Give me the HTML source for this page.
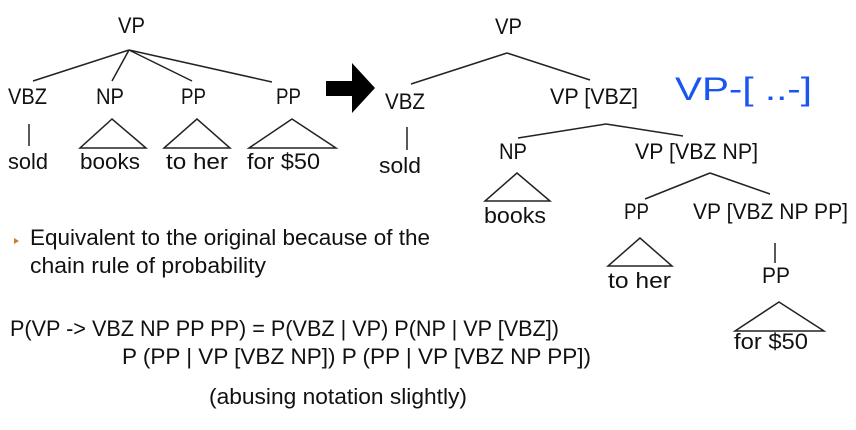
<!DOCTYPE html>
<html><head><meta charset="utf-8"><style>
html,body{margin:0;padding:0;background:#fff;}
svg{display:block;}
text{font-family:"Liberation Sans",sans-serif;font-size:22px;fill:#111;}
</style></head><body>
<svg width="856" height="430" viewBox="0 0 856 430" xmlns="http://www.w3.org/2000/svg">
<g stroke="#222" stroke-width="1.5" fill="none">
<line x1="129" y1="50" x2="33" y2="81"/>
<line x1="129" y1="50" x2="112" y2="81"/>
<line x1="129" y1="50" x2="192" y2="81"/>
<line x1="129" y1="50" x2="272" y2="82"/>
<line x1="29" y1="124" x2="29" y2="146"/>
<polygon points="112,119 80,148 146,148"/>
<polygon points="197,119 164,148 230,148"/>
<polygon points="292,119 249,148 336,148"/>
<line x1="507" y1="53" x2="411" y2="84"/>
<line x1="507" y1="53" x2="590" y2="80"/>
<line x1="407" y1="127" x2="407" y2="150"/>
<line x1="606" y1="124" x2="518" y2="138"/>
<line x1="606" y1="124" x2="683" y2="136"/>
<polygon points="517,173 485,201 550,201"/>
<line x1="710" y1="173" x2="645" y2="199"/>
<line x1="710" y1="173" x2="770" y2="194"/>
<polygon points="640,238 608,266 672,266"/>
<line x1="775" y1="243" x2="775" y2="263"/>
<polygon points="779,302 735,331 824,331"/>
</g>
<rect x="326" y="81" width="28" height="15" fill="#000"/>
<polygon points="352,63 375,88 352,113" fill="#000"/>
<text x="118" y="33" textLength="27" lengthAdjust="spacingAndGlyphs">VP</text>
<text x="8" y="104" textLength="39" lengthAdjust="spacingAndGlyphs">VBZ</text>
<text x="96" y="104" textLength="28" lengthAdjust="spacingAndGlyphs">NP</text>
<text x="181" y="104" textLength="25" lengthAdjust="spacingAndGlyphs">PP</text>
<text x="276" y="104" textLength="25" lengthAdjust="spacingAndGlyphs">PP</text>
<text x="8" y="169" textLength="40" lengthAdjust="spacingAndGlyphs">sold</text>
<text x="80" y="169" textLength="60" lengthAdjust="spacingAndGlyphs">books</text>
<text x="166" y="169" textLength="62" lengthAdjust="spacingAndGlyphs">to her</text>
<text x="247" y="169" textLength="73" lengthAdjust="spacingAndGlyphs">for $50</text>
<text x="495" y="34" textLength="27" lengthAdjust="spacingAndGlyphs">VP</text>
<text x="385" y="109" textLength="40" lengthAdjust="spacingAndGlyphs">VBZ</text>
<text x="550" y="104" textLength="88" lengthAdjust="spacingAndGlyphs">VP [VBZ]</text>
<text x="379" y="173" textLength="42" lengthAdjust="spacingAndGlyphs">sold</text>
<text x="499" y="159" textLength="28" lengthAdjust="spacingAndGlyphs">NP</text>
<text x="635" y="159" textLength="123" lengthAdjust="spacingAndGlyphs">VP [VBZ NP]</text>
<text x="484" y="223" textLength="62" lengthAdjust="spacingAndGlyphs">books</text>
<text x="624" y="219" textLength="25" lengthAdjust="spacingAndGlyphs">PP</text>
<text x="693" y="219" textLength="155" lengthAdjust="spacingAndGlyphs">VP [VBZ NP PP]</text>
<text x="608" y="288" textLength="63" lengthAdjust="spacingAndGlyphs">to her</text>
<text x="762" y="283" textLength="28" lengthAdjust="spacingAndGlyphs">PP</text>
<text x="734" y="349" textLength="74" lengthAdjust="spacingAndGlyphs">for $50</text>
<text x="675" y="100" textLength="137" lengthAdjust="spacingAndGlyphs" style="fill:#1a55f0;font-size:32px;font-weight:normal;">VP-[ ..-]</text>
<polygon points="14,238 19,241 14,244" fill="#d07a30"/>
<text x="30" y="245" textLength="400" lengthAdjust="spacingAndGlyphs">Equivalent to the original because of the</text>
<text x="30" y="273" textLength="236" lengthAdjust="spacingAndGlyphs">chain rule of probability</text>
<text x="10" y="336" textLength="549" lengthAdjust="spacingAndGlyphs">P(VP -&gt; VBZ NP PP PP) = P(VBZ | VP) P(NP | VP [VBZ])</text>
<text x="122" y="364" textLength="469" lengthAdjust="spacingAndGlyphs">P (PP | VP [VBZ NP]) P (PP | VP [VBZ NP PP])</text>
<text x="209" y="404" textLength="258" lengthAdjust="spacingAndGlyphs">(abusing notation slightly)</text>
</svg>
</body></html>
